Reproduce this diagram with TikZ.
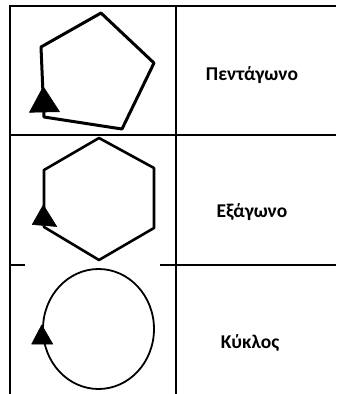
\documentclass[tikz,border=0pt]{standalone}
\usepackage{fontspec}
\setmainfont{Carlito}
\begin{document}
\begin{tikzpicture}[x=1pt,y=-1pt,
  rule/.style={line width=2pt},
  shapeline/.style={line width=#1, line join=round},
  arrowhead/.style={fill=black, draw=black, line width=0.6pt, line join=round},
  label/.style={font=\bfseries\fontsize{19.5}{22}\selectfont, inner sep=0pt}]
\useasboundingbox (0,0) rectangle (337,394);
% table rules
\draw[rule] (10,394) -- (10,5.5) -- (336,5.5);
\draw[rule] (175.5,5.5) -- (175.5,394);
\draw[rule] (10,134.5) -- (336,134.5);
\draw[rule] (10,265) -- (25,265);
\draw[rule] (160,265) -- (336,265);
% pentagon
\draw[shapeline=3pt] (41,47) -- (101,13) -- (154,63) -- (122,129) -- (44,117) -- cycle;
\filldraw[arrowhead] (43.3,86.7) -- (29.5,112.3) -- (59.5,111.7) -- cycle;
% hexagon
\draw[shapeline=2.6pt] (99,138) -- (154,168) -- (154,228) -- (99,260) -- (44,227) -- (44,170) -- cycle;
\filldraw[arrowhead] (43.3,205) -- (32.3,224.5) -- (56.7,226.5) -- cycle;
% circle
\draw[line width=1.8pt] (98.5,329) ellipse [x radius=55.5, y radius=60];
\filldraw[arrowhead] (41.7,325) -- (31.7,344) -- (52.7,344) -- cycle;
% labels
\node[label] (pent) at (252,75) {Πεντάγωνο};
\node[label] (hex) at (252,212) {Εξάγωνο};
\node[label] (circ) at (250,343) {Κύκλος};
\end{tikzpicture}
\end{document}
